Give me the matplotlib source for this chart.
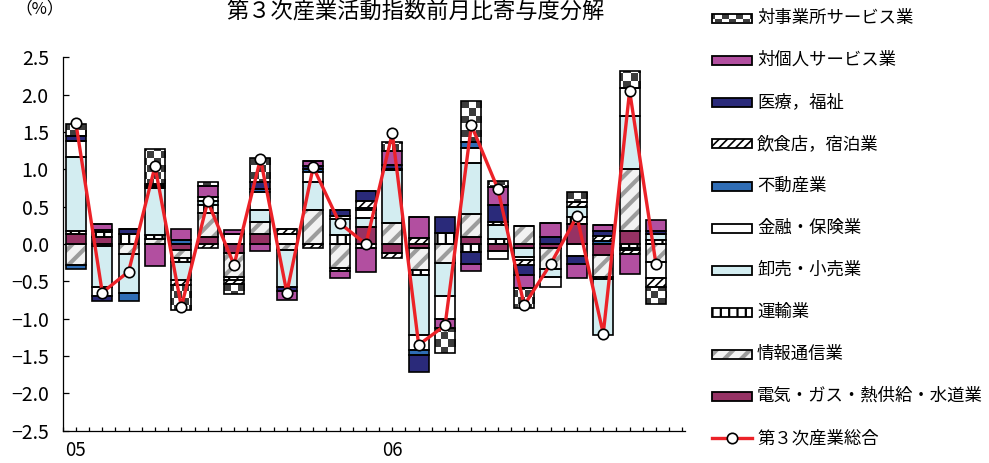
import numpy as np
import matplotlib
matplotlib.use("Agg")
import matplotlib.pyplot as plt
from matplotlib.colors import ListedColormap

plt.rcParams["font.family"] = ["Noto Sans CJK JP", "DejaVu Sans"]
plt.rcParams["hatch.linewidth"] = 1.2

# 2005-01 .. 2006-11 (23 months)
xlabels = {0: "05", 12: "06"}
total = [1.62, -0.65, -0.37, 1.04, -0.84, 0.57, -0.28, 1.14, -0.65, 1.03, 0.28, 0.00,
         1.48, -1.35, -1.09, 1.59, 0.74, -0.82, -0.27, 0.37, -1.20, 2.05, -0.27]

# contributions, stacking order bottom -> top
elec     = [0.14, 0.09, 0.00, 0.00, -0.08, 0.10, -0.12, 0.14, 0.00, 0.00, 0.00, 0.23,
            -0.12, -0.05, 0.00, 0.10, -0.10, -0.05, -0.05, 0.27, -0.15, 0.17, 0.00]
info     = [-0.28, -0.03, -0.13, 0.07, -0.11, 0.32, -0.32, 0.16, -0.08, 0.46, -0.32, 0.00,
            0.28, -0.30, -0.26, 0.30, 0.00, 0.24, -0.28, 0.00, -0.29, 0.83, -0.24]
trans    = [0.04, 0.07, 0.14, 0.05, -0.05, 0.10, -0.04, 0.00, 0.00, 0.00, 0.12, -0.05,
            0.00, -0.07, 0.15, -0.11, 0.07, 0.00, 0.00, 0.09, -0.03, -0.05, 0.05]
retail   = [0.98, -0.54, -0.53, 0.63, -0.24, 0.06, 0.00, 0.16, -0.49, 0.37, 0.22, 0.12,
            0.71, -0.80, -0.44, 0.68, 0.18, -0.12, -0.11, 0.14, -0.75, 0.72, 0.09]
finance  = [0.22, -0.12, 0.00, 0.00, 0.00, 0.05, 0.14, 0.24, 0.14, 0.14, 0.04, 0.10,
            0.00, -0.20, -0.30, 0.21, -0.10, -0.05, -0.13, -0.16, 0.00, 0.37, -0.22]
estate   = [-0.06, 0.00, -0.10, 0.03, 0.05, 0.00, 0.00, 0.04, 0.00, 0.03, 0.00, 0.03,
            0.02, -0.07, 0.00, 0.08, 0.00, 0.00, 0.00, 0.00, 0.04, -0.03, 0.00]
food     = [0.00, 0.03, 0.00, 0.00, -0.07, -0.06, -0.05, 0.00, 0.06, -0.05, -0.04, 0.10,
            -0.07, 0.08, 0.00, 0.00, 0.05, -0.06, 0.00, 0.06, 0.07, -0.05, -0.12]
medical  = [0.07, -0.07, 0.06, 0.03, 0.00, 0.00, 0.00, 0.09, -0.06, 0.05, 0.07, 0.13,
            0.05, -0.22, 0.21, -0.16, 0.22, -0.14, 0.09, -0.11, 0.06, 0.00, 0.03]
personal = [0.00, 0.08, 0.00, -0.29, 0.15, 0.14, 0.05, -0.10, -0.12, 0.06, -0.10, -0.33,
            0.19, 0.28, -0.13, -0.09, 0.24, -0.17, 0.19, -0.19, 0.09, -0.27, 0.15]
business = [0.16, 0.00, 0.00, 0.46, -0.33, 0.06, -0.14, 0.32, 0.00, 0.00, 0.00, 0.00,
            0.12, 0.00, -0.33, 0.54, 0.09, -0.27, 0.00, 0.13, 0.00, 0.22, -0.22]

names = ["電気・ガス・熱供給・水道業", "情報通信業", "運輸業", "卸売・小売業", "金融・保険業",
         "不動産業", "飲食店，宿泊業", "医療，福祉", "対個人サービス業", "対事業所サービス業"]
data = [elec, info, trans, retail, finance, estate, food, medical, personal, business]
# face colour, hatch, hatch colour, hatch linewidth, checker
styles = [
    ("#963264", None, None, 1.2, False),
    ("#f2f2f2", "//", "#9c9c9c", 3.0, False),
    ("white", "||", "black", 1.6, False),
    ("#d3edf1", None, None, 1.2, False),
    ("white", None, None, 1.2, False),
    ("#2f6db5", None, None, 1.2, False),
    ("white", "////", "black", 1.2, False),
    ("#2a2a7a", None, None, 1.2, False),
    ("#b24fa0", None, None, 1.2, False),
    ("white", None, None, 1.2, True),
]
CHECK = ListedColormap(["white", "#3c3c3c"])


def checker(ax, patches, cell=7):
    bb = ax.get_window_extent()
    x0, x1 = ax.get_xlim()
    y0, y1 = ax.get_ylim()
    nx, ny = int(bb.width / cell) + 1, int(bb.height / cell) + 1
    img = np.indices((ny, nx)).sum(axis=0) % 2
    ext = (x0, x0 + nx * cell * (x1 - x0) / bb.width, y0, y0 + ny * cell * (y1 - y0) / bb.height)
    for p in patches:
        im = ax.imshow(img, cmap=CHECK, extent=ext, origin="lower", aspect="auto",
                       interpolation="nearest", zorder=2.1)
        im.set_clip_path(p)


def draw(ax, x, h, b, st, width, lw=1.2):
    face, hatch, hcol, hlw, chk = st
    with plt.rc_context({"hatch.linewidth": hlw}):
        bars = ax.bar(x, h, width, bottom=b, color=face, edgecolor=hcol or face,
                      hatch=hatch, linewidth=0, zorder=2)
    if chk:
        checker(ax, bars.patches)
    ax.bar(x, h, width, bottom=b, fill=False, edgecolor="black", linewidth=lw, zorder=2.2)


fig = plt.figure(figsize=(9.89, 4.63), dpi=100)
W, H = 989, 463
ax = fig.add_axes([62.7 / W, (H - 430.7) / H, (685 - 62.7) / W, (430.7 - 57.3) / H])
ax.set_xlim(-0.5, 23.1)
ax.set_ylim(-2.5, 2.5)

x = np.arange(len(total))
pos = np.zeros(len(total))
neg = np.zeros(len(total))
for vals, st in zip(data, styles):
    v = np.array(vals)
    bottom = np.where(v >= 0, pos, neg)
    draw(ax, x, v, bottom, st, 0.76)
    pos = pos + np.clip(v, 0, None)
    neg = neg + np.clip(v, None, 0)

ax.plot(x, total, color="#ec2228", lw=2.4, marker="o", ms=7.5, mfc="white",
        mec="black", mew=1.2, zorder=5)

ax.set_xlim(-0.5, 23.1)
ax.set_ylim(-2.5, 2.5)
for s in ["top", "right"]:
    ax.spines[s].set_visible(False)
for s in ["left", "bottom"]:
    ax.spines[s].set_linewidth(0.9)

yt = np.linspace(-2.5, 2.5, 11)
ax.set_yticks(yt)
ax.set_yticklabels([f"{t:.1f}".replace("-", "\u2212") for t in yt])
ax.set_xticks(list(xlabels.keys()))
ax.set_xticklabels(list(xlabels.values()))
ax.set_xticks(np.arange(-0.5, 23.01, 0.5), minor=True)
ax.tick_params(axis="y", direction="in", length=4, width=0.9, pad=10, labelsize=14)
ax.tick_params(axis="x", which="both", direction="in", length=3, width=0.9, pad=7, labelsize=13.5)

fig.text(415 / W, 1 - 11 / H, "第３次産業活動指数前月比寄与度分解", ha="center", va="center", fontsize=16)
fig.text(40 / W, 1 - 9 / H, "（%）", ha="center", va="center", fontsize=12)

# legend (top to bottom = reverse stacking order)
order = list(range(len(names)))[::-1]
for i, k in enumerate(order):
    yc = 18 + 42 * i
    lax = fig.add_axes([708 / W, 1 - (yc + 8) / H, 48 / W, 16 / H])
    lax.set_xlim(0, 48)
    lax.set_ylim(0, 16)
    draw(lax, [24], [9], [3.5], styles[k], 40, lw=1.3)
    lax.set_xlim(0, 48)
    lax.set_ylim(0, 16)
    lax.axis("off")
    fig.text(757 / W, 1 - yc / H, names[k], ha="left", va="center", fontsize=12.5)

yc = 18 + 42 * 10
lax = fig.add_axes([708 / W, 1 - (yc + 8) / H, 48 / W, 16 / H])
lax.plot([4, 44], [8, 8], color="#ec2228", lw=2.4)
lax.plot([24], [8], marker="o", ms=7.5, mfc="white", mec="black", mew=1.2)
lax.set_xlim(0, 48)
lax.set_ylim(0, 16)
lax.axis("off")
fig.text(757 / W, 1 - yc / H, "第３次産業総合", ha="left", va="center", fontsize=12.5)

fig.savefig("out.png", dpi=100)
